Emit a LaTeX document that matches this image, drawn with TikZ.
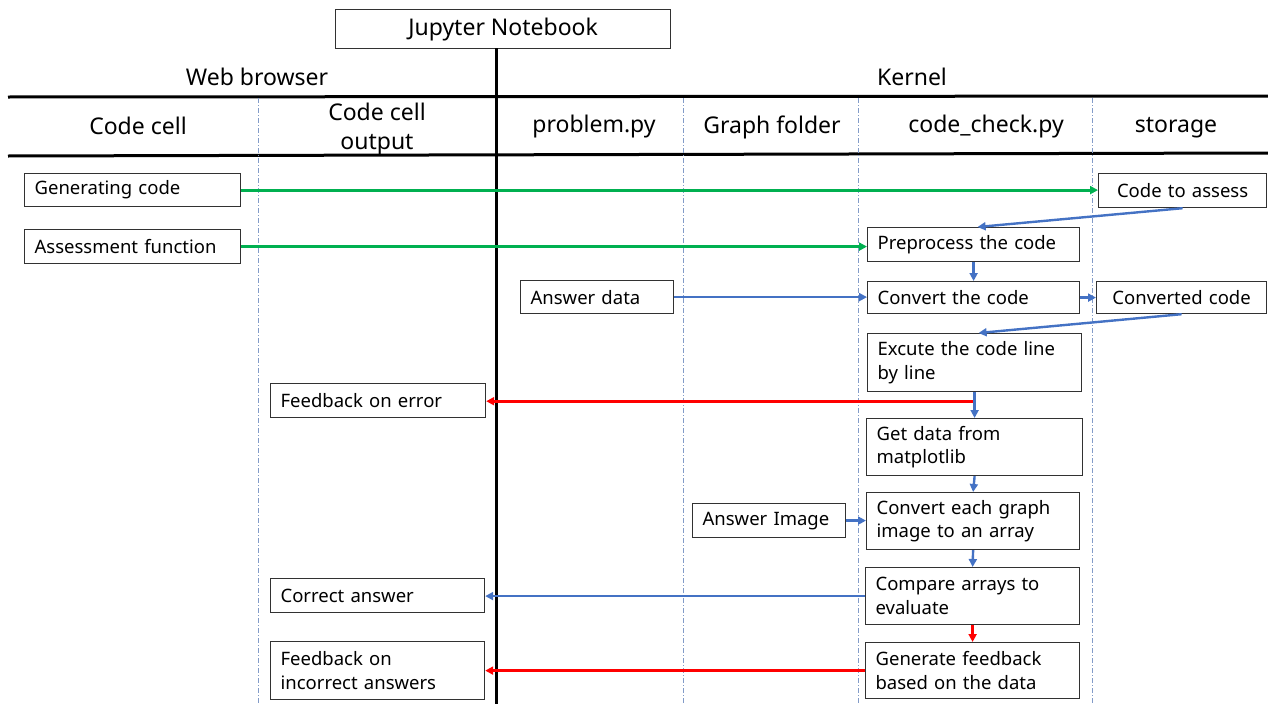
\documentclass[tikz,border=0pt]{standalone}
\usepackage{fontspec}
\setmainfont{Noto Sans}
\usetikzlibrary{arrows.meta}
\definecolor{grn}{RGB}{0,176,80}
\definecolor{blu}{RGB}{68,114,196}
\definecolor{rd}{RGB}{255,0,0}
\definecolor{dsh}{RGB}{130,155,200}
\definecolor{bord}{RGB}{50,50,50}
\begin{document}
\begin{tikzpicture}[x=1pt,y=-1pt,
  bx/.style={draw=bord, line width=1.2pt, anchor=north west, inner xsep=10pt, inner ysep=0pt, align=left, font=\fontsize{18.5}{23.5}\selectfont},
  cbx/.style={bx, align=center},
  hd/.style={font=\fontsize{23}{29}\selectfont, inner sep=0pt, align=center},
  heavy/.style={line width=3pt, black},
  lane/.style={dsh, line width=0.9pt, dash pattern=on 5pt off 2pt on 1pt off 2pt},
  tip/.style={-{Triangle[length=8pt,width=8pt]}},
  ga/.style={tip, grn, line width=2.8pt},
  ba/.style={tip, blu, line width=2.4pt},
  ra/.style={tip, rd, line width=3.4pt}]
\useasboundingbox (0,0) rectangle (1268,704);
% header structure
\node[draw=bord, line width=1.2pt, anchor=north west, minimum width=335pt, minimum height=39pt, inner sep=0pt, font=\fontsize{23}{29}\selectfont] (jup) at (335,9) {Jupyter Notebook};
\draw[heavy] (496,48) -- (496,704);
\draw[heavy] (8,97) -- (1268,96);
\draw[heavy] (8,156) -- (1268,153);
\foreach \x in {258,683,858,1092} \draw[lane] (\x,98) -- (\x,704);
\node[hd] (web) at (257,77) {Web browser};
\node[hd] (ker) at (912,77) {Kernel};
\node[hd] (h1) at (138,126) {Code cell};
\node[hd] (h2) at (377,129) {Code cell\\output};
\node[hd] (h3) at (594,127) {problem.py};
\node[hd] (h4) at (772,127) {Graph folder};
\node[hd] (h5) at (986,127) {code\_check.py};
\node[hd] (h6) at (1176,128) {storage};
% boxes
\node[bx, minimum height=33pt, text width=196pt] (gen) at (24,173) {Generating code};
\node[cbx, minimum height=34pt, text width=148pt] (assess) at (1098,173) {Code to assess};
\node[bx, minimum height=34pt, text width=196pt] (afun) at (24,229) {Assessment function};
\node[bx, minimum height=34pt, text width=192pt] (prep) at (867,227) {Preprocess the code};
\node[bx, minimum height=33pt, text width=133pt] (adata) at (520,280) {Answer data};
\node[bx, minimum height=32pt, text width=192pt] (conv) at (867,281) {Convert the code};
\node[cbx, minimum height=32pt, text width=150pt] (convd) at (1096,281) {Converted code};
\node[bx, minimum height=58pt, text width=194pt] (exec) at (867,333) {Excute the code line\\by line};
\node[bx, minimum height=57pt, text width=196pt] (getd) at (866,418) {Get data from\\matplotlib};
\node[bx, minimum height=57pt, text width=193pt] (conve) at (866,492) {Convert each graph\\image to an array};
\node[bx, minimum height=57pt, text width=194pt] (comp) at (865,567) {Compare arrays to\\evaluate};
\node[bx, minimum height=56pt, text width=194pt] (gfb) at (865,642) {Generate feedback\\based on the data};
\node[bx, minimum height=34pt, text width=133pt] (aimg) at (692,503) {Answer Image};
\node[bx, minimum height=34pt, text width=195pt] (ferr) at (270,383) {Feedback on error};
\node[bx, minimum height=34pt, text width=194pt] (corr) at (270,578) {Correct answer};
\node[bx, minimum height=58pt, text width=194pt] (finc) at (270,641) {Feedback on\\incorrect answers};
% connectors
\draw[ga] (gen.east) -- (gen.east -| assess.west);
\draw[ga] (afun.east) -- (afun.east -| prep.west);
\draw[ba] (assess.south) -- ([xshift=4pt]prep.north);
\draw[ba] (prep.south) -- (conv.north);
\draw[ba] (adata.east) -- (adata.east -| conv.west);
\draw[ba] (conv.east) -- (conv.east -| convd.west);
\draw[ba] (convd.south) -- ([xshift=4pt]exec.north);
\coordinate (ebr) at ([yshift=-9pt]exec.south);
\draw[ra] (ebr) -- (ebr -| ferr.east);
\draw[ba] (exec.south) -- (getd.north);
\draw[ba] (getd.south) -- (conve.north);
\draw[ba] (aimg.east) -- (aimg.east -| conve.west);
\draw[ba] (conve.south) -- (comp.north);
\draw[tip, blu, line width=2pt] (comp.west) -- (comp.west -| corr.east);
\draw[ra] (comp.south) -- (gfb.north);
\draw[ra] (gfb.west) -- (gfb.west -| finc.east);
\end{tikzpicture}
\end{document}
